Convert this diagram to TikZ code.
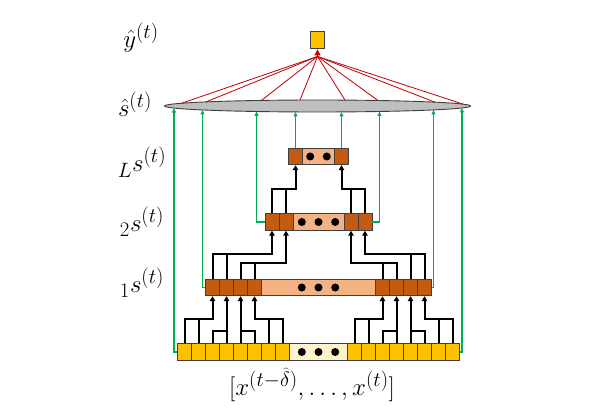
\documentclass[tikz,border=0pt]{standalone}
\usetikzlibrary{arrows.meta,shapes.geometric}
\definecolor{gold}{HTML}{FFC000}
\definecolor{rust}{HTML}{C55A11}
\definecolor{peach}{HTML}{F4B183}
\definecolor{cream}{HTML}{FFF2CC}
\definecolor{edge}{HTML}{3F3F3F}
\definecolor{skipgreen}{HTML}{00B050}
\definecolor{votered}{HTML}{C00000}
\begin{document}
\begin{tikzpicture}[
    x=1pt, y=-1pt,
    cell/.style={rectangle, draw=edge, line width=0.9pt, minimum width=14pt, minimum height=16.5pt, inner sep=0pt},
    incell/.style={cell, fill=gold},
    hidcell/.style={cell, fill=rust},
    wire/.style={line width=2pt},
    feed/.style={wire, -{Triangle[length=5pt,width=5.5pt]}},
    skip/.style={skipgreen, line width=1.1pt, -{Triangle[length=4.5pt,width=4pt]}},
    vote/.style={votered, line width=0.8pt},
    lbl/.style={font=\fontsize{28}{32}\selectfont}
]
    \useasboundingbox (0,0) rectangle (593,419);

    % input row
    \foreach \i in {1,...,8} {
        \node[incell] (xa\i) at ({184.5+14*(\i-1)},352) {};
        \node[incell] (xb\i) at ({354.5+14*(\i-1)},352) {};
    }
    \node[cell, fill=cream, minimum width=58pt] (xm) at (318.5,352) {};
    % first layer
    \foreach \i in {1,...,4} {
        \node[hidcell] (pa\i) at ({212.5+14*(\i-1)},287.5) {};
        \node[hidcell] (pb\i) at ({382.5+14*(\i-1)},287.5) {};
    }
    \node[cell, fill=peach, minimum width=114pt] (pm) at (318.5,287.5) {};
    % second layer
    \node[hidcell] (qa1) at (272,222) {};
    \node[hidcell] (qa2) at (286,222) {};
    \node[cell, fill=peach, minimum width=51pt] (qm) at (318.5,222) {};
    \node[hidcell] (qb1) at (351,222) {};
    \node[hidcell] (qb2) at (365,222) {};
    % last layer
    \node[hidcell] (ta) at (295.5,156.5) {};
    \node[cell, fill=peach, minimum width=32pt] (tm) at (318.5,156.5) {};
    \node[hidcell] (tb) at (341.5,156.5) {};

    % dots
    \foreach \k in {-1,0,1} {
        \fill ({318.5+16.7*\k},352) circle (4pt);
        \fill ({318.5+16.7*\k},287.5) circle (4pt);
        \fill ({318.5+16.7*\k},222) circle (4pt);
    }
    \fill (310.2,156.5) circle (4pt);
    \fill (326.8,156.5) circle (4pt);

    % input row -> first layer
    \foreach \s in {a,b} {
        \draw[feed] (x\s1.north) -- ++(0,-24.7) -| (p\s1.south);
        \draw[wire] (x\s2.north) -- ++(0,-24.7);
        \draw[wire] (x\s3.north) -- ++(0,-12.3) -| (x\s4.north);
        \draw[feed] (x\s4.north) -- (p\s2.south);
        \draw[wire] (x\s6.north) -- ++(0,-12.3) -| (x\s5.north);
        \draw[feed] (x\s5.north) -- (p\s3.south);
        \draw[feed] (x\s8.north) -- ++(0,-24.7) -| (p\s4.south);
        \draw[wire] (x\s7.north) -- ++(0,-24.7);
    }
    % first layer -> second layer
    \draw[feed] (pa1.north) -- ++(0,-24.7) -| (qa1.south);
    \draw[wire] (pa2.north) -- ++(0,-24.7);
    \draw[feed] (pa3.north) -- ++(0,-15.7) -| (qa2.south);
    \draw[wire] (pa4.north) -- ++(0,-15.7);
    \draw[feed] (pb2.north) -- ++(0,-15.7) -| (qb1.south);
    \draw[wire] (pb1.north) -- ++(0,-15.7);
    \draw[feed] (pb4.north) -- ++(0,-24.7) -| (qb2.south);
    \draw[wire] (pb3.north) -- ++(0,-24.7);
    % second layer -> last layer
    \draw[feed] (qa1.north) -- ++(0,-24.2) -| (ta.south);
    \draw[wire] (qa2.north) -- ++(0,-24.2);
    \draw[feed] (qb2.north) -- ++(0,-24.2) -| (tb.south);
    \draw[wire] (qb1.north) -- ++(0,-24.2);

    % pooled state and output
    \node[ellipse, draw=edge, fill=black!25, line width=0.9pt, minimum width=306pt, minimum height=12pt, inner sep=0pt] (pool) at (317.5,106) {};
    \node[rectangle, draw=edge, fill=gold, line width=0.9pt, minimum width=14.3pt, minimum height=17.3pt, inner sep=0pt] (out) at (317.5,40.3) {};

    % skip connections
    \coordinate (g1) at (174,108.1);
    \coordinate (g2) at (202.5,110);
    \coordinate (g3) at (256.5,111.5);
    \coordinate (g4) at (295.5,111.9);
    \coordinate (g5) at (341.5,111.9);
    \coordinate (g6) at (379.5,111.5);
    \coordinate (g7) at (433.5,109.9);
    \coordinate (g8) at (462,108);
    \draw[skip] (xa1.west) -| (g1);
    \draw[skip] (pa1.west) -| (g2);
    \draw[skip] (qa1.west) -| (g3);
    \draw[skip] (ta.north) -- (g4);
    \draw[skip] (tb.north) -- (g5);
    \draw[skip] (qb2.east) -| (g6);
    \draw[skip] (pb4.east) -| (g7);
    \draw[skip] (xb8.east) -| (g8);

    % readout
    \coordinate (hub) at (317.5,56.5);
    \foreach \px/\py in {181.5/103.3, 206/101.9, 261.5/100.4, 300/100.1, 345/100.1, 378/100.5, 435/102.2, 463/104.1}
        \draw[vote] (\px,\py) -- (hub);
    \draw[vote, -{Triangle[length=6pt,width=6pt]}] (hub) -- (out.south);

    % labels
    \node[lbl] (ylab) at (141,38) {$\hat{y}^{(t)}$};
    \node[lbl] (slab) at (135,104) {$\hat{s}^{(t)}$};
    \node[lbl] (llab) at (142,162) {${}_{L}s^{(t)}$};
    \node[lbl] (tlab) at (142,222) {${}_{2}s^{(t)}$};
    \node[lbl] (olab) at (142,283) {${}_{1}s^{(t)}$};
    \node[lbl] (xlab) at (312,385) {$[x^{(t-\widehat{\delta})},\ldots,x^{(t)}]$};
\end{tikzpicture}
\end{document}
